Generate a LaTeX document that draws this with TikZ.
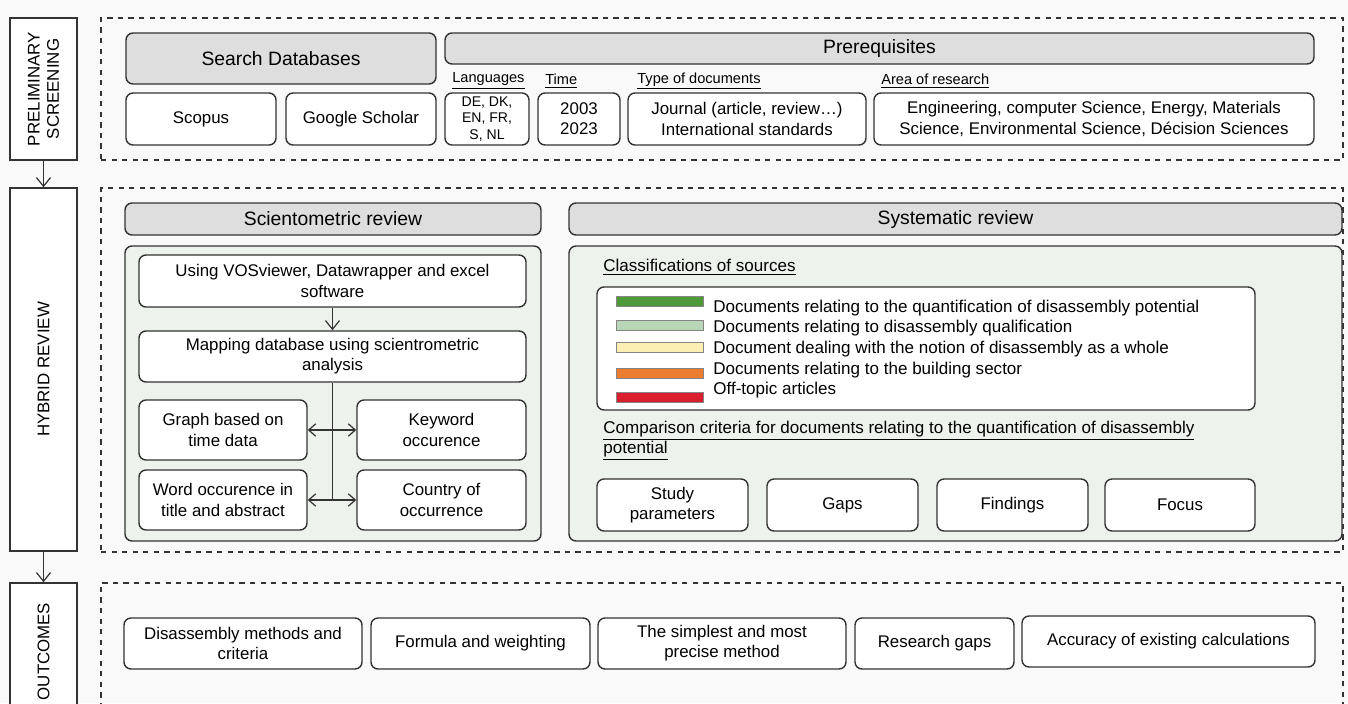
\documentclass[tikz,border=0pt]{standalone}
\usepackage{fontspec}
\setmainfont{Liberation Sans}
\usetikzlibrary{arrows.meta}
\definecolor{edge}{HTML}{333333}
\definecolor{paper}{HTML}{F9F9F9}
\definecolor{hdrgray}{HTML}{DEDEDE}
\definecolor{contfill}{HTML}{EEF2ED}
\definecolor{quant}{HTML}{4E9A3A}
\definecolor{qual}{HTML}{B8D6B5}
\definecolor{whole}{HTML}{FCEFB4}
\definecolor{build}{HTML}{EC7C30}
\definecolor{offtopic}{HTML}{D91F2E}
\tikzset{
  sz/.style 2 args={minimum width=#1*0.02cm, minimum height=#2*0.02cm},
  sec/.style={draw=edge, fill=white, line width=0.8pt, rotate=90, align=center, inner sep=0pt,
    font=\fontsize{9.6}{11}\selectfont},
  frame/.style={draw=edge, dashed, line width=0.7pt, inner sep=0pt},
  hdr/.style={draw=edge, fill=hdrgray, rounded corners=4pt, line width=0.8pt, inner sep=0pt,
    font=\fontsize{11}{13}\selectfont},
  box/.style={draw=edge, fill=white, rounded corners=4pt, line width=0.8pt, align=center, inner sep=0pt,
    font=\fontsize{9.6}{11.5}\selectfont},
  cont/.style={draw=edge, fill=contfill, rounded corners=4pt, line width=0.8pt, inner sep=0pt},
  lbl/.style={anchor=west, inner sep=0pt, font=\fontsize{8.3}{10}\selectfont},
  nlbl/.style={anchor=west, inner sep=0pt, align=left, font=\fontsize{9.7}{11.4}\selectfont},
  bar/.style={draw=edge!60, line width=0.5pt, inner sep=0pt, sz={87}{10}},
  arr/.style={-{Straight Barb[length=5pt,width=8pt]}, line width=0.7pt, draw=edge},
  dbl/.style={{Straight Barb[length=4pt,width=7pt]}-{Straight Barb[length=4pt,width=7pt]}, line width=0.7pt, draw=edge},
}
\begin{document}
\begin{tikzpicture}[x=0.02cm, y=-0.02cm]
  \useasboundingbox (0,0) rectangle (1348,703);
  \fill[paper] (0,0) rectangle (1348,703);

  \node[sec, sz={142}{67}] (prel) at (43.5,89) {PRELIMINARY\\SCREENING};
  \node[sec, sz={363}{67}] (hybr) at (43.5,369.5) {HYBRID REVIEW};
  \node[sec, sz={137}{67}] (outc) at (43.5,651.5) {OUTCOMES};

  \node[frame, sz={1242}{142}] (fr1) at (722,89) {};
  \node[frame, sz={1242}{364}] (fr2) at (722,370) {};
  \node[frame, sz={1242}{137}] (fr3) at (722,651.5) {};

  \node[hdr, sz={310}{51}] (srch) at (281,58.5) {Search Databases};
  \node[box, sz={150}{52}] (scop) at (201,119) {Scopus};
  \node[box, sz={150}{52}] (goog) at (361,119) {Google Scholar};
  \node[hdr, sz={869}{31}] (preq) at (879.5,48.5) {Prerequisites};
  \node[box, sz={84}{52}, font=\fontsize{8}{9.4}\selectfont] (lang) at (487,119) {DE, DK,\\EN, FR,\\S, NL};
  \node[box, sz={82}{52}] (time) at (579,119) {2003\\2023};
  \node[box, sz={238}{52}] (type) at (747,119) {Journal (article, review…)\\International standards};
  \node[box, sz={440}{52}] (area) at (1094,119) {Engineering, computer Science, Energy, Materials\\Science, Environmental Science, Décision Sciences};
  \node[lbl] (llang) at (452,81) {\underline{Languages}};
  \node[lbl] (ltime) at (545,81) {\underline{Time}};
  \node[lbl] (ltype) at (637,81) {\underline{Type of documents}};
  \node[lbl] (larea) at (881,81) {\underline{Area of research}};

  \node[hdr, sz={416}{32}] (scih) at (333,219) {Scientometric review};
  \node[cont, sz={416}{295}] (scic) at (333,393.5) {};
  \node[box, sz={387}{52}] (usin) at (332.5,281) {Using VOSviewer, Datawrapper and excel\\software};
  \node[box, sz={387}{51}] (mapp) at (332.5,356.5) {Mapping database using scientrometric\\analysis};
  \node[box, sz={168}{60}] (grph) at (223,430) {Graph based on\\time data};
  \node[box, sz={169}{60}] (keyw) at (441.5,430) {Keyword\\occurence};
  \node[box, sz={168}{60}] (word) at (223,500) {Word occurence in\\title and abstract};
  \node[box, sz={169}{60}] (ctry) at (441.5,500) {Country of\\occurrence};
  \coordinate (jn) at (332.5,500);

  \node[hdr, sz={773}{32}] (sysh) at (955.5,219) {Systematic review};
  \node[cont, sz={773}{295}] (sysc) at (955.5,393.5) {};
  \node[nlbl] (clas) at (603,267) {\underline{Classifications of sources}};
  \node[box, sz={658}{123}] (lgnd) at (926,348.5) {};
  \node[bar, fill=quant] (bar1) at (659.5,301) {};
  \node[bar, fill=qual] (bar2) at (659.5,325.5) {};
  \node[bar, fill=whole] (bar3) at (659.5,347.5) {};
  \node[bar, fill=build] (bar4) at (659.5,373.5) {};
  \node[bar, fill=offtopic] (bar5) at (659.5,397.5) {};
  \node[nlbl] (txt1) at (713,308) {Documents relating to the quantification of disassembly potential};
  \node[nlbl] (txt2) at (713,328) {Documents relating to disassembly qualification};
  \node[nlbl] (txt3) at (713,349) {Document dealing with the notion of disassembly as a whole};
  \node[nlbl] (txt4) at (713,370) {Documents relating to the building sector};
  \node[nlbl] (txt5) at (713,390) {Off-topic articles};
  \node[nlbl] (comp) at (603,441)
    {\underline{Comparison criteria for documents relating to the quantification of disassembly}\\\underline{potential}};
  \node[box, sz={151}{52}] (stdy) at (672.5,505) {Study\\parameters};
  \node[box, sz={151}{52}] (gaps) at (842.5,505) {Gaps};
  \node[box, sz={151}{52}] (find) at (1012.5,505) {Findings};
  \node[box, sz={150}{52}] (focs) at (1180,505) {Focus};

  \node[box, sz={238}{51}] (dism) at (243,643.5) {Disassembly methods and\\criteria};
  \node[box, sz={219}{51}] (form) at (480.5,643.5) {Formula and weighting};
  \node[box, sz={248}{51}] (simp) at (722,643.5) {The simplest and most\\precise method};
  \node[box, sz={159}{51}] (rgap) at (934.5,643.5) {Research gaps};
  \node[box, sz={293}{51}] (accu) at (1168.5,641.5) {Accuracy of existing calculations};

  \begin{scope}[arr]
    \draw (prel) -- (hybr);
    \draw (hybr) -- (outc);
    \draw (usin) -- (mapp);
  \end{scope}
  \draw[line width=0.7pt, draw=edge] (mapp) -- (jn);
  \draw[dbl] (grph) -- (keyw);
  \draw[dbl] (word) -- (ctry);
\end{tikzpicture}
\end{document}
